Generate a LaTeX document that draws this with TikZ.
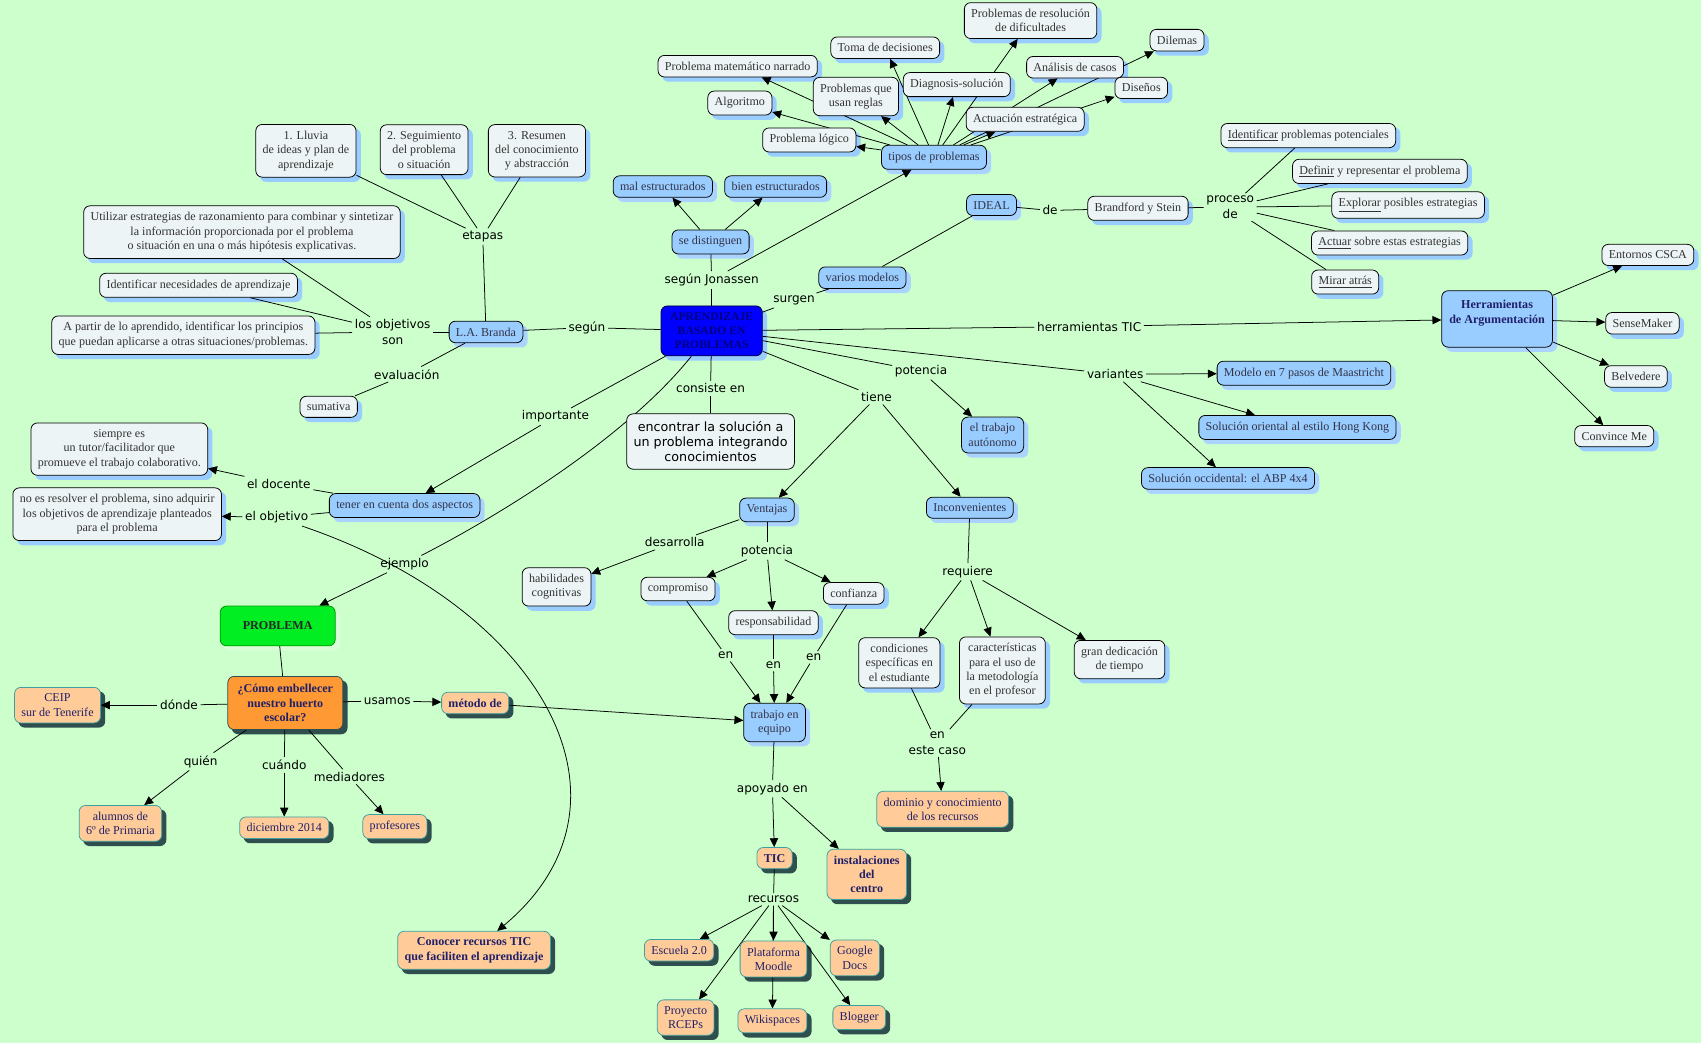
\documentclass[tikz,border=0pt]{standalone}
\usepackage{fontspec}
\setmainfont{Liberation Serif}
\setsansfont{DejaVu Sans}
\usetikzlibrary{arrows.meta}
\pgfdeclarelayer{background}
\pgfdeclarelayer{shadows}
\pgfdeclarelayer{edges}
\pgfsetlayers{background,shadows,edges,main}
\definecolor{paper}{HTML}{CCFFCC}
\definecolor{lightfill}{HTML}{EDF4F5}
\definecolor{lighttext}{HTML}{333333}
\definecolor{bluefill}{HTML}{99CCFF}
\definecolor{bluetext}{HTML}{333347}
\definecolor{shadowblue}{HTML}{99CCFF}
\definecolor{shadowpale}{HTML}{AAD4FF}
\definecolor{peachfill}{HTML}{FFCC99}
\definecolor{peachline}{HTML}{3F9F9F}
\definecolor{navytext}{HTML}{20206A}
\definecolor{darkshadow}{HTML}{2F4F4F}
\definecolor{orangefill}{HTML}{FF9933}
\definecolor{greenfill}{HTML}{00EE22}
\definecolor{mainfill}{HTML}{0000FF}
\definecolor{maintext}{HTML}{000080}
\begin{document}
\begin{tikzpicture}[x=0.03cm, y=-0.03cm,
    box/.style={draw, rounded corners=5pt, align=center, line width=0.6pt,
      inner xsep=0.19cm, inner ysep=0.18cm, font=\fontsize{9.5}{11.3}\selectfont},
    lightbox/.style={box, fill=lightfill, text=lighttext},
    bluebox/.style={box, fill=bluefill, text=bluetext},
    peachbox/.style={box, fill=peachfill, draw=peachline, text=navytext},
    phrase/.style={align=center, inner sep=2pt, font=\sffamily\fontsize{9.5}{12}\selectfont},
    link/.style={line width=0.6pt},
    arr/.style={link, -{Triangle[length=7pt,width=6.5pt]}}]

  \useasboundingbox (0,0) rectangle (1568,961);
  \begin{pgfonlayer}{background}
    \fill[paper] (0,0) rectangle (1568,961);
  \end{pgfonlayer}

  % central concept
  \node[box, fill=mainfill, draw=black!80!blue, text=maintext, font=\bfseries\fontsize{9.2}{11}\selectfont,
    minimum width=2.8cm, minimum height=1.38cm] (abp) at (656,305) {APRENDIZAJE\\BASADO EN\\PROBLEMAS};
  \node[bluebox, font=\bfseries\fontsize{9.5}{11.3}\selectfont, text=navytext,
    minimum width=3.06cm, minimum height=1.56cm] (herram) at (1380,294) {Herramientas\\de Argumentación\\\mbox{}};
  \node[box, fill=greenfill, draw=green!60!black, text=black!85, font=\bfseries\fontsize{9.5}{11.3}\selectfont,
    minimum width=3.18cm, minimum height=1.1cm] (problema) at (256,577) {PROBLEMA};
  \node[box, fill=orangefill, draw=darkshadow, text=navytext, font=\bfseries\fontsize{9.5}{11.3}\selectfont,
    minimum width=3.18cm, minimum height=1.47cm] (huerto) at (263,648) {¿Cómo embellecer\\nuestro huerto\\escolar?};
  \node[box, fill=lightfill, text=black, font=\sffamily\fontsize{10}{11.5}\selectfont,
    minimum width=4.53cm, minimum height=1.53cm] (encontrar) at (655,407) {encontrar la solución a\\un problema integrando\\conocimientos};
  \begin{pgfonlayer}{shadows}
    \foreach \id/\col in {abp/shadowblue, herram/shadowpale, problema/green!15, huerto/darkshadow} {
      \fill[\col, rounded corners=5pt] ([shift={(4,4)}]\id.south west) rectangle ([shift={(4,4)}]\id.north east);
    }
  \end{pgfonlayer}

  % light concepts
  \foreach \id/\x/\y/\txt in {
      lluvia/282/139/{1. Lluvia\\de ideas y plan de\\aprendizaje},
      seguim/391/138/{2. Seguimiento\\del problema\\o situación},
      resumen/495/139/{3. Resumen\\del conocimiento\\y abstracción},
      utilizar/223/214/{Utilizar estrategias de razonamiento para combinar y sintetizar\\la información proporcionada por el problema\\o situación en una o más hipótesis explicativas.},
      identnec/183/263/{Identificar necesidades de aprendizaje},
      apartir/169/309/{A partir de lo aprendido, identificar los principios\\que puedan aplicarse a otras situaciones/problemas.},
      sumativa/303/375/{sumativa},
      tutor/110/414/{siempre es\\un tutor/facilitador que\\promueve el trabajo colaborativo.},
      noes/108/474/{no es resolver el problema, sino adquirir\\los objetivos de aprendizaje planteados\\para el problema},
      matnarr/680/61/{Problema matemático narrado},
      algoritmo/682/95/{Algoritmo},
      logico/746/129/{Problema lógico},
      reglas/789/89/{Problemas que\\usan reglas},
      toma/816/44/{Toma de decisiones},
      diagnosis/882/78/{Diagnosis-solución},
      dificult/950/19/{Problemas de resolución\\de dificultades},
      actuacion/945/110/{Actuación estratégica},
      analisis/991/62/{Análisis de casos},
      disenos/1052/81/{Diseños},
      dilemas/1085/37/{Dilemas},
      brandford/1049/192/{Brandford y Stein},
      identif/1206/125/{\underline{Identificar} problemas potenciales},
      definir/1272/158/{\underline{Definir} y representar el problema},
      explorar/1298/189/{\underline{Explorar} posibles estrategias},
      actuar/1281/224/{\underline{Actuar} sobre estas estrategias},
      mirar/1240/260/{\underline{Mirar atrás}},
      entornos/1519/235/{Entornos CSCA},
      sense/1514/298/{SenseMaker},
      belvedere/1508/347/{Belvedere},
      convince/1488/402/{Convince Me},
      habil/513/541/{habilidades\\cognitivas},
      compromiso/625/543/{compromiso},
      respons/713/574/{responsabilidad},
      confianza/787/547/{confianza},
      condic/829/611/{condiciones\\específicas en\\el estudiante},
      caract/924/618/{características\\para el uso de\\la metodología\\en el profesor},
      dedic/1032/608/{gran dedicación\\de tiempo}} {
    \node[lightbox] (\id) at (\x,\y) {\txt};
    \begin{pgfonlayer}{shadows}
      \fill[shadowblue, rounded corners=5pt] ([shift={(4,4)}]\id.south west) rectangle ([shift={(4,4)}]\id.north east);
    \end{pgfonlayer}
  }

  % blue concepts
  \foreach \id/\x/\y/\txt in {
      branda/448/306/{L.A. Branda},
      tener/373/466/{tener en cuenta dos aspectos},
      distinguen/655/223/{se distinguen},
      mal/611/172/{mal estructurados},
      bien/715/172/{bien estructurados},
      tipos/861/145/{tipos de problemas},
      modelos/795/256/{varios modelos},
      ideal/914/189/{IDEAL},
      maastricht/1202/344/{Modelo en 7 pasos de Maastricht},
      oriental/1196/394/{Solución oriental al estilo Hong Kong},
      occidental/1132/441/{Solución occidental: el ABP 4x4},
      autonomo/915/401/{el trabajo\\autónomo},
      ventajas/707/470/{Ventajas},
      inconv/894/468/{Inconvenientes},
      equipo/714/666/{trabajo en\\equipo}} {
    \node[bluebox] (\id) at (\x,\y) {\txt};
    \begin{pgfonlayer}{shadows}
      \fill[shadowpale, rounded corners=5pt] ([shift={(4,4)}]\id.south west) rectangle ([shift={(4,4)}]\id.north east);
    \end{pgfonlayer}
  }

  % peach concepts
  \foreach \id/\x/\y/\txt in {
      ceip/53/650/{CEIP\\sur de Tenerife},
      metodo/438/648/{\textbf{método de}},
      alumnos/111/759/{alumnos de\\6º de Primaria},
      diciembre/262/763/{diciembre 2014},
      profesores/364/762/{profesores},
      conocer/437/876/{\textbf{Conocer recursos TIC}\\\textbf{que faciliten el aprendizaje}},
      dominio/869/746/{dominio y conocimiento\\de los recursos},
      tic/714/791/{\textbf{TIC}},
      instal/799/806/{\textbf{instalaciones}\\\textbf{del}\\\textbf{centro}},
      escuela/626/876/{Escuela 2.0},
      moodle/713/884/{Plataforma\\Moodle},
      gdocs/788/883/{Google\\Docs},
      rceps/632/938/{Proyecto\\RCEPs},
      wikis/712/941/{Wikispaces},
      blogger/792/938/{Blogger}} {
    \node[peachbox] (\id) at (\x,\y) {\txt};
    \begin{pgfonlayer}{shadows}
      \fill[darkshadow, rounded corners=5pt] ([shift={(4,4)}]\id.south west) rectangle ([shift={(4,4)}]\id.north east);
    \end{pgfonlayer}
  }

  % linking phrases
  \foreach \id/\x/\y/\txt in {
      segun/541/302/{según}, etapas/445/218/{etapas}, objson/362/306/{los objetivos\\son},
      evalua/375/345/{evaluación}, importante/512/384/{importante}, docente/257/446/{el docente},
      objetivo/255/477/{el objetivo}, ejemplo/373/520/{ejemplo}, donde/165/650/{dónde},
      usamos/357/646/{usamos}, quien/185/702/{quién}, cuando/262/705/{cuándo},
      mediad/322/716/{mediadores}, jonassen/656/258/{según Jonassen}, surgen/732/277/{surgen},
      de/968/194/{de}, proceso/1134/191/{proceso\\de}, herrTIC/1004/301/{herramientas TIC},
      variantes/1028/345/{variantes}, potencia/849/342/{potencia}, consiste/655/358/{consiste en},
      tiene/808/366/{tiene}, desarrolla/622/500/{desarrolla}, potencia2/707/508/{potencia},
      en1/669/604/{en}, en2/713/613/{en}, en3/750/606/{en}, apoyado/712/727/{apoyado en},
      recursos/713/829/{recursos}, requiere/892/527/{requiere}, caso/864/685/{en\\este caso}} {
    \node[phrase] (\id) at (\x,\y) {\txt};
  }

  % connectors
  \begin{pgfonlayer}{edges}
    \foreach \a/\b in {abp/segun, segun/branda, branda/etapas, etapas/lluvia, etapas/seguim,
        etapas/resumen, branda/objson, objson/utilizar, objson/identnec, objson/apartir,
        branda/evalua, evalua/sumativa, abp/importante, tener/docente, tener/objetivo,
        abp/jonassen, jonassen/distinguen, abp/surgen, surgen/modelos, modelos/ideal,
        ideal/de, de/brandford, brandford/proceso, proceso/identif, proceso/definir,
        proceso/explorar, proceso/actuar, proceso/mirar, abp/herrTIC, abp/variantes,
        abp/potencia, abp/consiste, consiste/encontrar, abp/tiene, ventajas/desarrolla,
        ventajas/potencia2, compromiso/en1, respons/en2, confianza/en3, equipo/apoyado,
        tic/recursos, inconv/requiere, condic/caso, caract/caso, problema/huerto,
        huerto/donde, huerto/usamos, huerto/quien, huerto/cuando, huerto/mediad} {
      \draw[link] (\a) -- (\b);
    }
    \foreach \a/\b in {importante/tener, docente/tutor, objetivo/noes, ejemplo/problema,
        donde/ceip, usamos/metodo, quien/alumnos, cuando/diciembre, mediad/profesores,
        metodo/equipo, jonassen/tipos, distinguen/mal, distinguen/bien, tipos/matnarr,
        tipos/algoritmo, tipos/logico, tipos/reglas, tipos/toma, tipos/diagnosis,
        tipos/dificult, tipos/actuacion, tipos/analisis, tipos/disenos, tipos/dilemas,
        herrTIC/herram, herram/entornos, herram/sense, herram/belvedere, herram/convince,
        variantes/maastricht, variantes/oriental, variantes/occidental, potencia/autonomo,
        tiene/ventajas, tiene/inconv, desarrolla/habil, potencia2/compromiso,
        potencia2/respons, potencia2/confianza, en1/equipo, en2/equipo, en3/equipo,
        apoyado/tic, apoyado/instal, recursos/escuela, recursos/moodle, recursos/gdocs,
        recursos/rceps, recursos/wikis, recursos/blogger, requiere/condic,
        requiere/caract, requiere/dedic, caso/dominio} {
      \draw[arr] (\a) -- (\b);
    }
    \draw[link] (abp) .. controls (580,400) and (470,470) .. (ejemplo);
    \draw[arr] (objetivo) .. controls (500,560) and (600,740) .. (conocer);
  \end{pgfonlayer}
\end{tikzpicture}
\end{document}
